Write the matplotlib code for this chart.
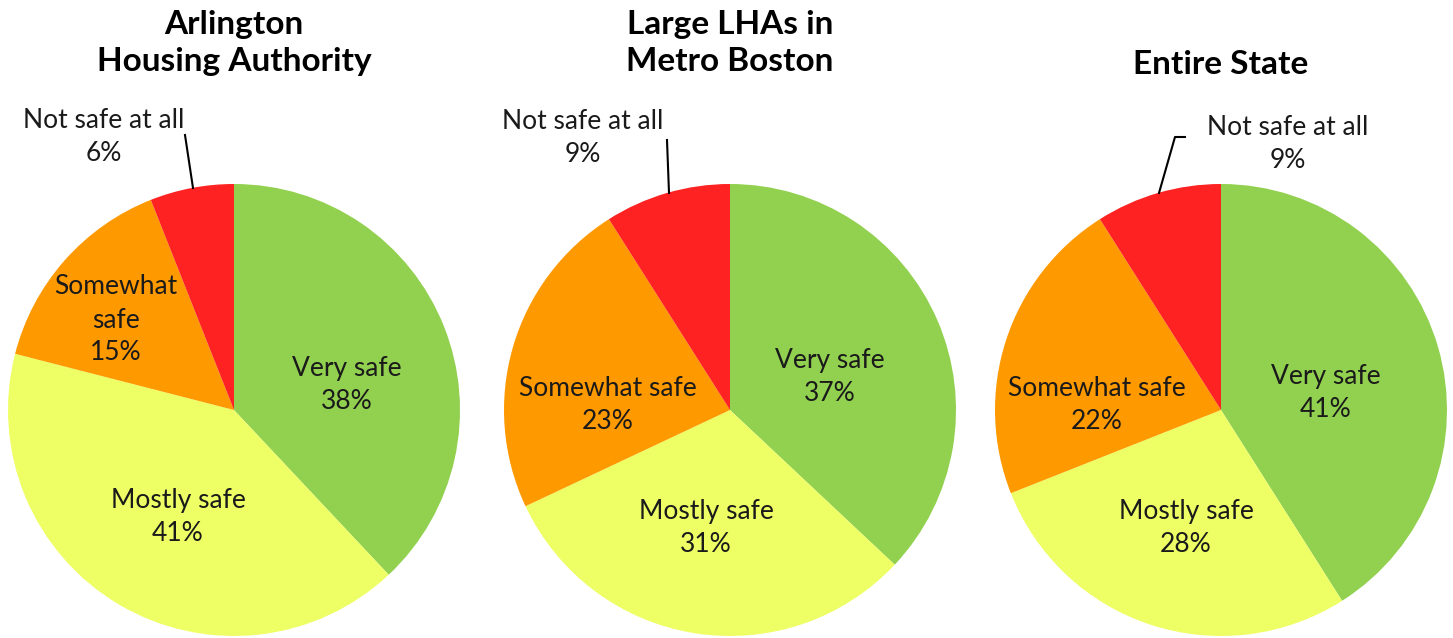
import matplotlib.pyplot as plt

plt.rcParams['font.family'] = ['Lato', 'DejaVu Sans']

# データ
categories = ["Very safe", "Mostly safe", "Somewhat safe", "Not safe at all"]
titles = ["Arlington\nHousing Authority", "Large LHAs in\nMetro Boston", "Entire State"]
arlington = [38, 41, 15, 6]
metro_boston = [37, 31, 23, 9]
entire_state = [41, 28, 22, 9]
series = [arlington, metro_boston, entire_state]

colors = ["#92D050", "#EEFF66", "#FF9900", "#FF2222"]

W, H = 1453, 638
fig = plt.figure(figsize=(W / 100, H / 100), dpi=100)
ax = fig.add_axes([0, 0, 1, 1])

# 円の中心と半径（ピクセル, 上から）
centers = [(234, 410), (730, 410), (1221, 410)]
radius = 226

# ラベル位置（ピクセル, 上から）: very, mostly, somewhat, not safe
label_pos = [
    [(347, 385), (178, 517), (116, 320), (104, 137)],
    [(830, 377), (706, 528), (608, 405), (583, 138)],
    [(1326, 393), (1186, 528), (1097, 405), (1288, 144)],
]
label_fmt = [
    ["Very safe", "Mostly safe", "Somewhat\nsafe", "Not safe at all"],
    ["Very safe", "Mostly safe", "Somewhat safe", "Not safe at all"],
    ["Very safe", "Mostly safe", "Somewhat safe", "Not safe at all"],
]
# 引き出し線
leaders = [
    [(185, 135), (193, 188)],
    [(667, 140), (669, 193)],
    [(1185, 137), (1175, 137), (1159, 193)],
]
title_y = [43, 43, 65]

for i, vals in enumerate(series):
    cx, cy = centers[i]
    ax.pie(vals, colors=colors, startangle=90, counterclock=False,
           center=(cx, H - cy), radius=radius,
           wedgeprops=dict(linewidth=0))
    for j, v in enumerate(vals):
        x, y = label_pos[i][j]
        ax.text(x, H - y, f"{label_fmt[i][j]}\n{v}%", ha="center", va="center",
                fontsize=19, color="#1a1a1a", linespacing=1.4)
    xs = [p[0] for p in leaders[i]]
    ys = [H - p[1] for p in leaders[i]]
    ax.plot(xs, ys, color="black", lw=1.5)
    ax.text(cx, H - title_y[i], titles[i], ha="center", va="center",
            fontsize=24, fontweight="bold", linespacing=1.35)

ax.set_xlim(0, W)
ax.set_ylim(0, H)
ax.set_aspect("equal")
ax.axis("off")

fig.savefig("out.png", dpi=100)
